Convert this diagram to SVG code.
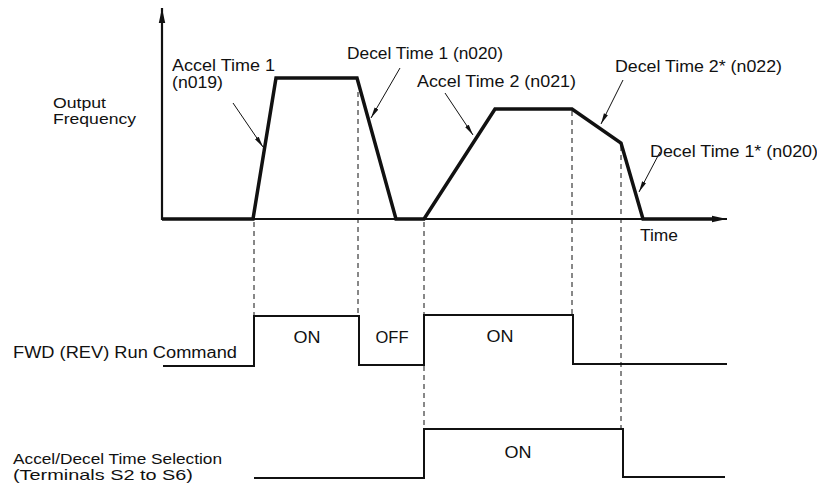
<svg xmlns="http://www.w3.org/2000/svg" width="817" height="485" viewBox="0 0 817 485">
<style>
text{font-family:"Liberation Sans",Arial,sans-serif;font-size:16px;fill:#111;}
.two{font-size:14.5px;}
.curve{fill:none;stroke:#111;stroke-width:3.5;stroke-linejoin:miter;}
.axis{fill:none;stroke:#111;stroke-width:2.2;}
.sig{fill:none;stroke:#111;stroke-width:2;stroke-linejoin:miter;}
.dash{fill:none;stroke:#111;stroke-width:1;stroke-dasharray:5,4;}
.lead{fill:none;stroke:#111;stroke-width:1;}
.mid{text-anchor:middle;}
</style>
<defs>
<marker id="ah" markerUnits="userSpaceOnUse" markerWidth="12" markerHeight="6" refX="11" refY="3" orient="auto">
<path d="M0,0.8 L11,3 L0,5.2 z" fill="#111"/>
</marker>
<marker id="axh" markerUnits="userSpaceOnUse" markerWidth="16" markerHeight="8" refX="15" refY="4" orient="auto">
<path d="M0,0.8 L15,4 L0,7.2 z" fill="#111"/>
</marker>
</defs>

<g id="axes">
<line class="axis" x1="162" y1="220" x2="162" y2="8" marker-end="url(#axh)"/>
<line class="axis" x1="162" y1="219" x2="727" y2="219" marker-end="url(#axh)"/>
</g>

<g id="frequency-curve">
<path class="curve" d="M162,219 L253,219 L276,78 L357,78 L396,219 L424,219 L495,109 L572,109 L621,143 L643,219 L712,219"/>
</g>

<g id="guides">
<line class="dash" x1="254" y1="222" x2="254" y2="316"/>
<line class="dash" x1="358" y1="92" x2="358" y2="316"/>
<line class="dash" x1="424" y1="222" x2="424" y2="429"/>
<line class="dash" x1="572" y1="111" x2="572" y2="316"/>
<line class="dash" x1="621" y1="146" x2="621" y2="428"/>
</g>

<g id="run-command">
<path class="sig" d="M163,366 L254,366 L254,316 L359,316 L359,365 L424,365 L424,315 L573,315 L573,364 L727,364"/>
<text class="mid" x="307" y="343" textLength="27" lengthAdjust="spacingAndGlyphs">ON</text>
<text class="mid" x="392" y="343" textLength="33" lengthAdjust="spacingAndGlyphs">OFF</text>
<text class="mid" x="500" y="342" textLength="27" lengthAdjust="spacingAndGlyphs">ON</text>
<text x="13" y="358" textLength="224" lengthAdjust="spacingAndGlyphs">FWD (REV) Run Command</text>
</g>

<g id="time-selection">
<path class="sig" d="M254,478 L424,478 L424,429 L623,429 L623,477 L725,477"/>
<text class="mid" x="518" y="458" textLength="27" lengthAdjust="spacingAndGlyphs">ON</text>
<text class="two" x="13" y="464" textLength="209" lengthAdjust="spacingAndGlyphs">Accel/Decel Time Selection</text>
<text class="two" x="13" y="480" textLength="180" lengthAdjust="spacingAndGlyphs">(Terminals S2 to S6)</text>
</g>

<g id="axis-labels">
<text class="two" x="53" y="108" textLength="53" lengthAdjust="spacingAndGlyphs">Output</text>
<text class="two" x="53" y="124" textLength="83" lengthAdjust="spacingAndGlyphs">Frequency</text>
<text x="640" y="241" textLength="38" lengthAdjust="spacingAndGlyphs">Time</text>
</g>

<g id="ramp-labels">
<text x="172" y="71" textLength="103" lengthAdjust="spacingAndGlyphs">Accel Time 1</text>
<text x="172" y="88" textLength="51" lengthAdjust="spacingAndGlyphs">(n019)</text>
<text x="347" y="59" textLength="156" lengthAdjust="spacingAndGlyphs">Decel Time 1 (n020)</text>
<text x="417" y="87" textLength="159" lengthAdjust="spacingAndGlyphs">Accel Time 2 (n021)</text>
<text x="615" y="72" textLength="167" lengthAdjust="spacingAndGlyphs">Decel Time 2* (n022)</text>
<text x="650" y="157" textLength="168" lengthAdjust="spacingAndGlyphs">Decel Time 1* (n020)</text>
</g>

<g id="connectors">
<line class="lead" x1="233" y1="103" x2="263" y2="147" marker-end="url(#ah)"/>
<line class="lead" x1="400" y1="68" x2="371" y2="118" marker-end="url(#ah)"/>
<line class="lead" x1="445" y1="93" x2="473" y2="135" marker-end="url(#ah)"/>
<line class="lead" x1="623" y1="80" x2="601" y2="124" marker-end="url(#ah)"/>
<line class="lead" x1="660" y1="152" x2="639" y2="192" marker-end="url(#ah)"/>
</g>
</svg>
